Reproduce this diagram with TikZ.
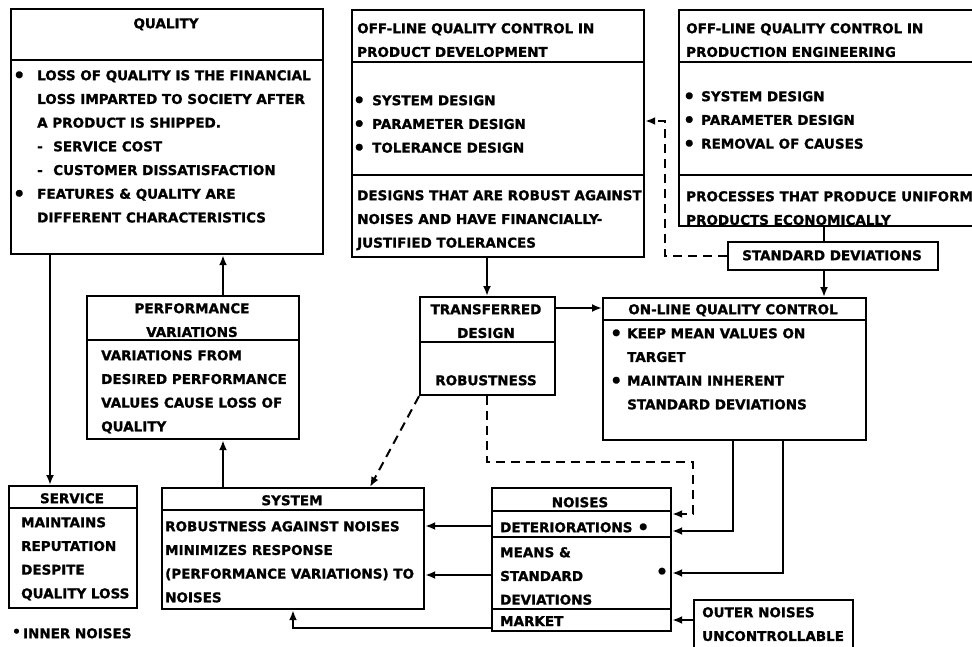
\documentclass[tikz,border=0pt]{standalone}
\usepackage{fontspec}
\setmainfont{DejaVu Sans}[BoldFeatures={FakeBold=1.2}]
\usetikzlibrary{arrows.meta}
% a heavier bullet, set in a box of the given width, and a matching indent
\newcommand\blob{\raisebox{-0.12em}{\scalebox{1.4}{\textbullet}}}
\newcommand\bul[1]{\makebox[#1][l]{\blob}}
\newcommand\ind[1]{\hspace*{#1}}
\begin{document}
\begin{tikzpicture}[x=1pt,y=-1pt,
  box/.style={draw, line width=2.2pt, inner sep=0pt, anchor=north west},
  sep/.style={line width=2pt},
  lbl/.style={inner sep=0pt, font=\bfseries\fontsize{13.5}{23.7}\selectfont},
  txt/.style={lbl, anchor=north west, align=left},
  ttl/.style={lbl, anchor=north, align=center},
  arr/.style={line width=2pt, -{Latex[length=10pt,width=8pt]}},
  link/.style={line width=2pt},
  dsh/.style={dash pattern=on 9pt off 6pt}]
\useasboundingbox (0,0) rectangle (972,647);
\clip (0,0) rectangle (972,647);

% ---------- QUALITY ----------
\node[box, minimum width=312pt, minimum height=245pt] (q) at (10,8) {};
\draw[sep] (q.west |- 0,60) -- (q.east |- 0,60);
\node[ttl] (qt) at (166,18) {QUALITY};
\node[txt] (qb) at (13,70) {\bul{24pt}LOSS OF QUALITY IS THE FINANCIAL\\
\ind{24pt}LOSS IMPARTED TO SOCIETY AFTER\\
\ind{24pt}A PRODUCT IS SHIPPED.\\
\ind{24pt}\makebox[16pt][l]{-}SERVICE COST\\
\ind{24pt}\makebox[16pt][l]{-}CUSTOMER DISSATISFACTION\\
\bul{24pt}FEATURES \& QUALITY ARE\\
\ind{24pt}DIFFERENT CHARACTERISTICS};

% ---------- OFF-LINE QC IN PRODUCT DEVELOPMENT ----------
\node[box, minimum width=292pt, minimum height=247pt] (pd) at (351,9) {};
\draw[sep] (pd.west |- 0,62) -- (pd.east |- 0,62);
\draw[sep] (pd.west |- 0,175) -- (pd.east |- 0,175);
\node[txt] (pdt) at (357,23) {OFF-LINE QUALITY CONTROL IN\\PRODUCT DEVELOPMENT};
\node[txt] (pdb) at (353,95) {\bul{19pt}SYSTEM DESIGN\\\bul{19pt}PARAMETER DESIGN\\\bul{19pt}TOLERANCE DESIGN};
\node[txt] (pdr) at (357,190) {DESIGNS THAT ARE ROBUST AGAINST\\NOISES AND HAVE FINANCIALLY-\\JUSTIFIED TOLERANCES};

% ---------- OFF-LINE QC IN PRODUCTION ENGINEERING ----------
\node[box, minimum width=320pt, minimum height=216pt] (pe) at (678,9) {};
\draw[sep] (pe.west |- 0,62) -- (pe.east |- 0,62);
\draw[sep] (pe.west |- 0,175) -- (pe.east |- 0,175);
\node[txt] (pet) at (686,23) {OFF-LINE QUALITY CONTROL IN\\PRODUCTION ENGINEERING};
\node[txt] (peb) at (683,91) {\bul{18pt}SYSTEM DESIGN\\\bul{18pt}PARAMETER DESIGN\\\bul{18pt}REMOVAL OF CAUSES};
\node[txt] (per) at (686,191) {PROCESSES THAT PRODUCE UNIFORM\\PRODUCTS ECONOMICALLY};

% ---------- STANDARD DEVIATIONS ----------
\node[box, minimum width=210pt, minimum height=28pt] (sd) at (727,241) {};
\node[ttl] (sdt) at (832,250) {STANDARD DEVIATIONS};

% ---------- PERFORMANCE VARIATIONS ----------
\node[box, minimum width=212pt, minimum height=143pt] (perf) at (86,295) {};
\draw[sep] (perf.west |- 0,340) -- (perf.east |- 0,340);
\node[ttl] (perft) at (192,303) {PERFORMANCE\\VARIATIONS};
\node[txt] (perfb) at (101,350) {VARIATIONS FROM\\DESIRED PERFORMANCE\\VALUES CAUSE LOSS OF\\QUALITY};

% ---------- TRANSFERRED DESIGN ----------
\node[box, minimum width=135pt, minimum height=98pt] (tr) at (419,296) {};
\draw[sep] (tr.west |- 0,342) -- (tr.east |- 0,342);
\node[ttl] (trt) at (486,304) {TRANSFERRED\\DESIGN};
\node[ttl] (trb) at (486,375) {ROBUSTNESS};

% ---------- ON-LINE QUALITY CONTROL ----------
\node[box, minimum width=263pt, minimum height=142pt] (ol) at (602,297) {};
\draw[sep] (ol.west |- 0,320) -- (ol.east |- 0,320);
\node[ttl] (olt) at (733,304) {ON-LINE QUALITY CONTROL};
\node[txt] (olb) at (610,328) {\bul{17pt}KEEP MEAN VALUES ON\\\ind{17pt}TARGET\\\bul{17pt}MAINTAIN INHERENT\\\ind{17pt}STANDARD DEVIATIONS};

% ---------- SERVICE ----------
\node[box, minimum width=128pt, minimum height=122pt] (svc) at (8,485) {};
\draw[sep] (svc.west |- 0,508) -- (svc.east |- 0,508);
\node[ttl] (svct) at (72,493) {SERVICE};
\node[txt] (svcb) at (21,517) {MAINTAINS\\REPUTATION\\DESPITE\\QUALITY LOSS};

% ---------- SYSTEM ----------
\node[box, minimum width=262pt, minimum height=121pt] (sys) at (161,487) {};
\draw[sep] (sys.west |- 0,510) -- (sys.east |- 0,510);
\node[ttl] (syst) at (292,495) {SYSTEM};
\node[txt] (sysb) at (165,521) {ROBUSTNESS AGAINST NOISES\\MINIMIZES RESPONSE\\(PERFORMANCE VARIATIONS) TO\\NOISES};

% ---------- NOISES ----------
\node[box, minimum width=179pt, minimum height=143pt] (noi) at (491,487) {};
\draw[sep] (noi.west |- 0,511) -- (noi.east |- 0,511);
\draw[sep] (noi.west |- 0,537) -- (noi.east |- 0,537);
\draw[sep] (noi.west |- 0,609) -- (noi.east |- 0,609);
\node[ttl] (noit) at (580,497) {NOISES};
\node[txt] (noid) at (500,522) {DETERIORATIONS \blob};
\node[txt] (noim) at (500,547) {MEANS \&\\STANDARD\\DEVIATIONS};
\node[txt] (noik) at (500,616) {MARKET};
\node[lbl] (noidot) at (662,573) {\blob};

% ---------- OUTER NOISES ----------
\node[box, minimum width=159pt, minimum height=70pt] (out) at (693,599) {};
\node[txt] (outt) at (702,607) {OUTER NOISES\\UNCONTROLLABLE};

% ---------- legend ----------
\node[txt] (inner) at (12,628) {\raisebox{0.15em}{\textbullet}\,INNER NOISES};

% ---------- connectors ----------
\draw[arr] (q.south -| 50,0) -- (svc.north -| 50,0);
\draw[arr] (perf.north -| 223,0) -- (q.south -| 223,0);
\draw[arr] (sys.north -| 223,0) -- (perf.south -| 223,0);
\draw[arr] (pd.south -| 487,0) -- (tr.north -| 487,0);
\draw[arr] (tr.east |- 0,308) -- (ol.west |- 0,308);
\draw[link] (pe.south -| 824,0) -- (sd.north -| 824,0);
\draw[arr] (sd.south -| 824,0) -- (ol.north -| 824,0);
\draw[arr, dsh] (sd.west) -| (665,121) -- (pd.east |- 0,121);
\draw[arr, dsh] (tr.south west) -- (sys.north -| 370,0);
\draw[arr, dsh] (tr.south -| 487,0) |- (693,462) |- (noi.east |- 0,514);
\draw[arr] (ol.south -| 733,0) |- (noi.east |- 0,531);
\draw[arr] (ol.south -| 783,0) |- (noi.east |- 0,573);
\draw[arr] (out.west |- 0,620) -- (noi.east |- 0,620);
\draw[arr] (noi.west |- 0,526) -- (sys.east |- 0,526);
\draw[arr] (noi.west |- 0,575) -- (sys.east |- 0,575);
\draw[arr] (noi.west |- 0,628) -| (sys.south -| 293,0);
\end{tikzpicture}
\end{document}
